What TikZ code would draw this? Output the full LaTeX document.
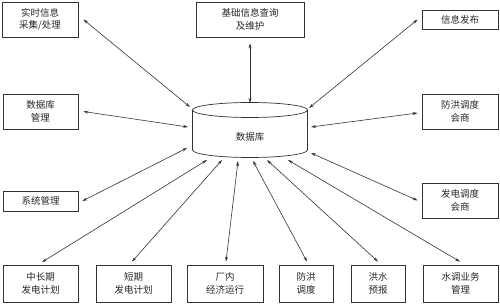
\documentclass[tikz,border=0pt]{standalone}
\usepackage{fontspec}
\newfontfamily\cjk{Noto Sans CJK SC}
\usetikzlibrary{arrows.meta}
\begin{document}
\begin{tikzpicture}[x=1pt,y=-1pt,
  box/.style={draw=black!80,line width=0.7pt,align=center,inner sep=0pt,
    font=\cjk\fontsize{9.5}{12.5}\selectfont,text=black!85},
  arr/.style={draw=black!80,line width=0.6pt,{Stealth[length=5pt,width=3pt]}-{Stealth[length=5pt,width=3pt]}}]
\useasboundingbox (0,0) rectangle (500,304);
% boxes
\node[box,minimum width=76pt,minimum height=35pt] (rt) at (40,19.5) {实时信息\\采集/处理};
\node[box,minimum width=108pt,minimum height=35pt] (jc) at (250,19.5) {基础信息查询\\及维护};
\node[box,minimum width=76pt,minimum height=19pt] (xx) at (460,19.5) {信息发布};
\node[box,minimum width=75pt,minimum height=35pt] (sjk) at (40.5,111.5) {数据库\\管理};
\node[box,minimum width=76pt,minimum height=35pt] (fh) at (460,111.5) {防洪调度\\会商};
\node[box,minimum width=75pt,minimum height=20pt] (xt) at (40.5,201) {系统管理};
\node[box,minimum width=76pt,minimum height=35pt] (fd) at (460,200.5) {发电调度\\会商};
\node[box,minimum width=75pt,minimum height=37pt] (zc) at (40.5,283.5) {中长期\\发电计划};
\node[box,minimum width=75pt,minimum height=37pt] (dq) at (133.5,283.5) {短期\\发电计划};
\node[box,minimum width=76pt,minimum height=37pt] (cn) at (225,283.5) {厂内\\经济运行};
\node[box,minimum width=54pt,minimum height=37pt] (fhd) at (306,283.5) {防洪\\调度};
\node[box,minimum width=54pt,minimum height=37pt] (hs) at (378,283.5) {洪水\\预报};
\node[box,minimum width=75pt,minimum height=37pt] (sd) at (460.5,283.5) {水调业务\\管理};
% cylinder
\draw[draw=black!80,line width=0.7pt] (250,110) ellipse [x radius=57.5, y radius=7.5];
\draw[draw=black!80,line width=0.7pt] (192.5,110) -- (192.5,150)
  arc[start angle=180,end angle=360,x radius=57.5,y radius=-7.5] -- (307.5,110);
\node[font=\cjk\fontsize{9.5}{12}\selectfont,text=black!85] (db) at (250,137) {数据库};
% cylinder attachment points
\coordinate (d1) at (190,107);
\coordinate (d2) at (250,103);
\coordinate (d3) at (309,108);
\coordinate (d4) at (188,127);
\coordinate (d5) at (311,127);
\coordinate (d6) at (187,148);
\coordinate (d7) at (311,153);
\coordinate (d8) at (207,160);
\coordinate (d9) at (222,160);
\coordinate (d10) at (238,161);
\coordinate (d11) at (253,161);
\coordinate (d12) at (267,160);
\coordinate (d13) at (288,160);
% connectors
\draw[arr] ([xshift=5pt]rt.east) -- (d1);
\draw[arr] ([yshift=-6pt]jc.south) -- (d2);
\draw[arr] ([xshift=-4pt]xx.west) -- (d3);
\draw[arr] ([xshift=5pt]sjk.east) -- (d4);
\draw[arr] ([xshift=-4pt,yshift=-1.5pt]fh.west) -- (d5);
\draw[arr] ([xshift=4pt]xt.east) -- (d6);
\draw[arr] ([xshift=-4pt]fd.west) -- (d7);
\draw[arr] ([shift={(1.5pt,2.5pt)}]zc.north) -- (d8);
\draw[arr] ([shift={(-1.5pt,3pt)}]dq.north) -- (d9);
\draw[arr] ([shift={(1pt,3pt)}]cn.north) -- (d10);
\draw[arr] ([shift={(1pt,3pt)}]fhd.north) -- (d11);
\draw[arr] ([yshift=3pt]hs.north) -- (d12);
\draw[arr] ([shift={(-0.5pt,3pt)}]sd.north) -- (d13);
\end{tikzpicture}
\end{document}
